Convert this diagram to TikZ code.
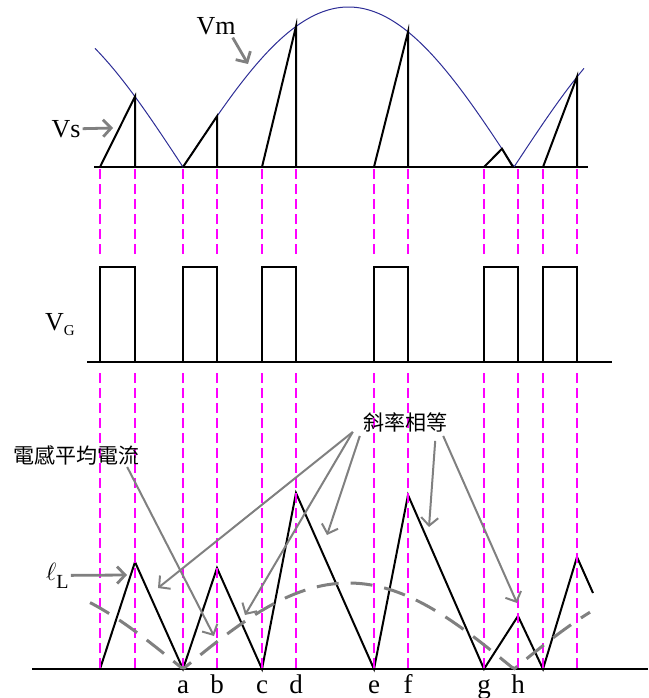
\documentclass[tikz,border=0pt]{standalone}
\usepackage{fontspec}
\setmainfont{Liberation Serif}
\newfontfamily\cjk{Noto Sans CJK TC}
\usepackage{tikz}
\usetikzlibrary{arrows.meta,calc}
\definecolor{vmBlue}{RGB}{45,45,150}
\definecolor{gridMagenta}{RGB}{255,0,255}
\definecolor{noteGray}{RGB}{128,128,128}

\begin{document}
\begin{tikzpicture}[x=1pt,y=-1pt,
  wave/.style={black, line width=2pt},
  pulse/.style={black, line width=2.6pt},
  axis/.style={black, line width=1.2pt},
  guide/.style={gridMagenta, line width=2.5pt, dash pattern=on 10pt off 5pt},
  avg/.style={noteGray, line width=3pt, dash pattern=on 22pt off 12pt},
  note/.style={noteGray, line width=2pt, -{Straight Barb[length=8pt,width=17pt]}},
  thicknote/.style={note, line width=2.8pt},
  lbl/.style={inner sep=0pt, font=\fontsize{26}{30}\selectfont},
  cjklbl/.style={inner sep=0pt, font=\cjk\fontsize{21}{24}\selectfont}]
\useasboundingbox (0,0) rectangle (648,698);

% V_s and V_m
\draw[axis] (94,167) -- (588,167);
\draw[vmBlue, line width=1pt] plot[domain=95:584, samples=240] (\x,{167-160*abs(sin((\x-183)/331*180))});
\draw[wave] (100,167) -- (135,96.6) -- (135,167);
\draw[wave] (183,167) -- (217,116.3) -- (217,167);
\draw[wave] (262,167) -- (296,26.4) -- (296,167);
\draw[wave] (374,167) -- (408,31.9) -- (408,167);
\draw[wave] (484,167) -- (502,148.8) -- (513,167);
\draw[wave] (543,167) -- (577,76.9) -- (577,167);

% V_G
\draw[axis] (87,362) -- (612,362);
\foreach \ga/\gb in {100/135,183/217,262/296,374/408,484/518,543/577}
  \draw[pulse] (\ga,362) -- (\ga,267) -- (\gb,267) -- (\gb,362);

% i_L
\draw[axis] (32,669) -- (648,669);
\draw[wave] (100,669) -- (135,562) -- (183,669) -- (217,568) -- (262,669)
  -- (296,493) -- (374,669) -- (408,495) -- (484,669) -- (518,616)
  -- (543,669) -- (577,557) -- (593,593);

% switching instants
\foreach \gx in {100,135,183,217,262,296,374,408,484,518,543,577} {
  \draw[guide] (\gx,169) -- (\gx,255);
  \draw[guide] (\gx,373) -- (\gx,668);
}

\draw[avg] plot[domain=90:590, samples=160] (\x,{669-86*abs(sin((\x-183)/331*180))});

\foreach \lx/\lt in {183/a,217/b,262/c,296/d,374/e,408/f,484/g,518/h}
  \node[lbl, font=\fontsize{27}{30}\selectfont, anchor=base] (tick\lt) at (\lx,693) {\lt};

% labels
\node[lbl, anchor=base] (vm) at (216,35) {Vm};
\node[lbl, anchor=base] (vs) at (66,137) {Vs};
\node[lbl, anchor=base west] (vg) at (45,330) {V\raisebox{-5pt}{\fontsize{15}{18}\selectfont G}};
\node[lbl, font=\fontsize{24}{28}\selectfont, anchor=base west] (il) at (46,580) {$\ell$\raisebox{-8pt}{\fontsize{20}{24}\selectfont L}};
\node[cjklbl] (avgnote) at (76,455) {電感平均電流};
\node[cjklbl] (slope) at (405,422) {斜率相等};

\coordinate (vmTip) at (248,64);
\coordinate (vsTip) at (113,128);
\coordinate (ilTip) at (127,575);
\coordinate (avgTip) at (214,636);
\coordinate (slopeA) at (158,588);
\coordinate (slopeB) at (245,615);
\coordinate (slopeC) at (327,535);
\coordinate (slopeD) at (429,527);
\coordinate (slopeE) at (517,603);

\draw[thicknote] ([xshift=-3pt,yshift=-2pt]vm.south east) -- (vmTip);
\draw[thicknote] ([xshift=2pt]vs.east) -- (vsTip);
\draw[thicknote] ([xshift=2pt]il.east) -- (ilTip);
\draw[note] ([xshift=-12pt,yshift=-2pt]avgnote.south east) -- (avgTip);
\draw[note] ([xshift=-10pt]slope.south west) -- (slopeA);
\draw[note] ([xshift=-10pt]slope.south west) -- (slopeB);
\draw[note] ([xshift=-3pt,yshift=-4pt]slope.south west) -- (slopeC);
\draw[note] ([xshift=-12pt,yshift=-9pt]slope.south east) -- (slopeD);
\draw[note] ([xshift=-4pt,yshift=-4pt]slope.south east) -- (slopeE);
\end{tikzpicture}
\end{document}
